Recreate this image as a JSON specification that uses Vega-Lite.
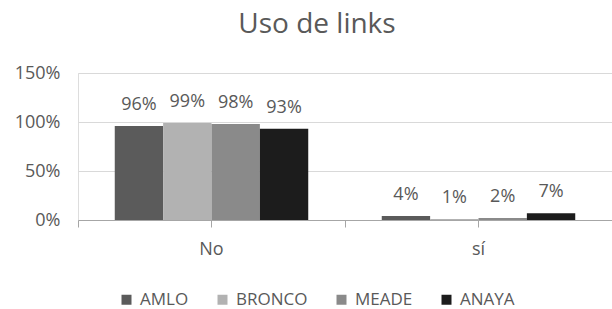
{
  "$schema": "https://vega.github.io/schema/vega-lite/v6.json",
  "width": 534,
  "height": 147,
  "autosize": {"type": "none"},
  "padding": {"left": 78, "top": 73, "right": 0, "bottom": 89},
  "background": "white",
  "title": {"text": "Uso de links", "font": "Open Sans", "fontSize": 28, "fontWeight": "normal", "color": "#595959", "anchor": "middle", "frame": "group", "dx": -28, "dy": 3, "baseline": "bottom", "offset": 0},
  "data": {"values": [
    {"respuesta": "No", "candidato": "AMLO", "valor": 0.96},
    {"respuesta": "No", "candidato": "BRONCO", "valor": 0.99},
    {"respuesta": "No", "candidato": "MEADE", "valor": 0.98},
    {"respuesta": "No", "candidato": "ANAYA", "valor": 0.93},
    {"respuesta": "sí", "candidato": "AMLO", "valor": 0.04},
    {"respuesta": "sí", "candidato": "BRONCO", "valor": 0.01},
    {"respuesta": "sí", "candidato": "MEADE", "valor": 0.02},
    {"respuesta": "sí", "candidato": "ANAYA", "valor": 0.07}
  ]},
  "encoding": {
    "xOffset": {"field": "candidato", "type": "nominal", "sort": ["AMLO", "BRONCO", "MEADE", "ANAYA"], "scale": {"paddingInner": 0, "paddingOuter": 0.76}},
    "y": {"field": "valor", "type": "quantitative", "scale": {"domain": [0, 1.5], "nice": false},
      "axis": {"title": null, "values": [0, 0.5, 1, 1.5], "format": ".0%", "domain": false, "ticks": false, "grid": true, "gridColor": "#d9d9d9", "labelFont": "Open Sans", "labelFontSize": 18, "labelColor": "#595959", "labelPadding": 18}}
  },
  "layer": [
    {
      "mark": {"type": "bar"},
      "encoding": {
        "x": {"field": "respuesta", "type": "nominal", "sort": ["No", "sí"], "scale": {"paddingInner": 0, "paddingOuter": 0},
          "axis": {"title": null, "orient": "bottom", "tickBand": "extent", "labels": false, "domainColor": "#a6a6a6", "tickColor": "#a6a6a6", "tickSize": 7, "grid": false}},
        "color": {"field": "candidato", "type": "nominal", "sort": ["AMLO", "BRONCO", "MEADE", "ANAYA"],
          "scale": {"domain": ["AMLO", "BRONCO", "MEADE", "ANAYA"], "range": ["#5b5b5b", "#b2b2b2", "#8a8a8a", "#1c1c1c"]},
          "legend": {"title": null, "orient": "none", "direction": "horizontal", "legendX": 40, "legendY": 218, "symbolType": "square", "symbolSize": 100, "symbolStrokeWidth": 0, "labelFont": "Open Sans", "labelFontSize": 17, "labelColor": "#595959", "columnPadding": 25, "labelOffset": 5}}
      }
    },
    {
      "mark": {"type": "text", "font": "Open Sans", "fontSize": 18, "color": "#595959", "baseline": "middle", "dy": -21},
      "encoding": {
        "x": {"field": "respuesta", "type": "nominal", "sort": ["No", "sí"], "scale": {"paddingInner": 0, "paddingOuter": 0},
          "axis": {"title": null, "orient": "bottom", "domain": false, "ticks": true, "tickColor": "#a6a6a6", "tickSize": 7, "labelFont": "Open Sans", "labelFontSize": 18, "labelColor": "#595959", "labelPadding": 13, "labelAngle": 0, "grid": false}},
        "text": {"field": "valor", "type": "quantitative", "format": ".0%"}
      }
    }
  ],
  "resolve": {"axis": {"x": "independent"}}
}
